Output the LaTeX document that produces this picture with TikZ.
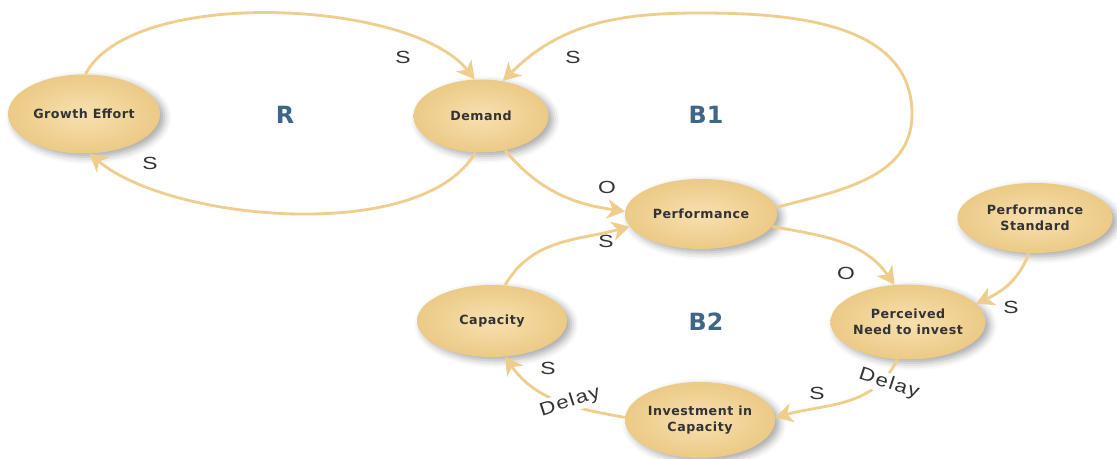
\documentclass[tikz,border=0pt]{standalone}
\usepackage{fontspec}
\setmainfont{Liberation Sans}
\newfontfamily\boxfont[LetterSpace=4]{DejaVu Sans}
\newfontfamily\polfont[FakeStretch=1.3]{Liberation Sans}
\newfontfamily\delayfont[FakeStretch=1.2,LetterSpace=8]{Liberation Sans}
\newfontfamily\loopfont{DejaVu Sans}
\usetikzlibrary{arrows.meta,shapes.geometric,shadows.blur}
\definecolor{linktan}{HTML}{EFCD8C}
\definecolor{nodein}{HTML}{F7E0B0}
\definecolor{nodeout}{HTML}{ECCA86}
\definecolor{loopblue}{HTML}{3E6688}
\definecolor{inktext}{HTML}{333333}
\begin{document}
\begin{tikzpicture}[
    var/.style={ellipse, minimum width=3cm, minimum height=1.46cm, inner sep=0pt,
      shade, inner color=nodein, outer color=nodeout, align=center, text=inktext,
      blur shadow={shadow xshift=2.5pt, shadow yshift=-2pt, shadow blur radius=4pt, shadow opacity=35},
      font=\boxfont\bfseries\fontsize{7.2}{9}\selectfont},
    link/.style={draw=linktan, line width=1.6pt, -{Stealth[length=10pt,width=11pt,inset=3pt]}},
    pol/.style={font=\polfont\fontsize{10}{12}\selectfont, text=inktext},
    delay/.style={font=\delayfont\fontsize{10.5}{12}\selectfont, text=inktext, fill=white, inner sep=1pt},
    loopname/.style={font=\loopfont\bfseries\fontsize{13.5}{15}\selectfont, text=loopblue}]
    \useasboundingbox (0,0) rectangle (22.34,9.18);
    % variables
    \node[var, minimum width=3.04cm, minimum height=1.58cm] (growth) at (1.68,6.90) {Growth Effort};
    \node[var, minimum width=2.7cm] (demand) at (9.62,6.86) {Demand};
    \node[var, minimum width=3.04cm, minimum height=1.4cm] (perf) at (14.02,4.90) {Performance};
    \node[var, minimum width=3.1cm, minimum height=1.4cm] (std) at (20.70,4.82) {Performance\\Standard};
    \node[var, minimum height=1.5cm] (perc) at (18.16,2.74) {Perceived\\Need to invest};
    \node[var, minimum height=1.52cm] (inv) at (14.00,0.78) {Investment in\\Capacity};
    \node[var, minimum height=1.44cm] (cap) at (9.84,2.76) {Capacity};
    % loop names
    \node[loopname] (loopR) at (5.70,6.88) {R};
    \node[loopname] (loopB1) at (14.12,6.88) {B1};
    \node[loopname] (loopB2) at (14.12,2.74) {B2};
    % links
    \coordinate (bR) at (18.24,6.9);
    \coordinate (bT) at (14.0,8.92);
    \draw[link] (growth.88) to[out=62,in=128,looseness=0.66] (demand.100);
    \draw[link] (demand.-99) to[out=-120,in=-40,looseness=0.7] (growth.-82);
    \draw[link] (demand.-55) to[out=-50,in=172] (perf.178);
    \draw[link] (perf.5) to[out=15,in=-90] (bR) to[out=90,in=0] (bT) to[out=180,in=45] (demand.58);
    \draw[link] (perf.-10) to[out=-10,in=125] (perc.110);
    \draw[link] (std.-100) to[out=-110,in=25] (perc.15);
    \draw[link] (perc.-106) to[out=-115,in=15] (inv.2);
    \draw[link] (inv.178) to[out=170,in=-55] (cap.-70);
    \draw[link] (cap.70) to[out=60,in=195] (perf.190);
    % polarities
    \def\pol#1#2#3{\node[pol] (#1) at (#2) {#3};}
    \pol{sGD}{8.06,8.04}{S}
    \pol{sPD}{11.46,8.04}{S}
    \pol{sDG}{3.00,5.92}{S}
    \pol{oDP}{12.14,5.44}{O}
    \pol{sCP}{12.12,4.36}{S}
    \pol{oPN}{16.92,3.72}{O}
    \pol{sSN}{20.22,3.04}{S}
    \pol{sNI}{16.34,1.32}{S}
    \pol{sIC}{10.96,1.82}{S}
    \node[delay, rotate=-18] (dNI) at (17.78,1.50) {Delay};
    \node[delay, rotate=18] (dIC) at (11.40,1.14) {Delay};
\end{tikzpicture}
\end{document}
